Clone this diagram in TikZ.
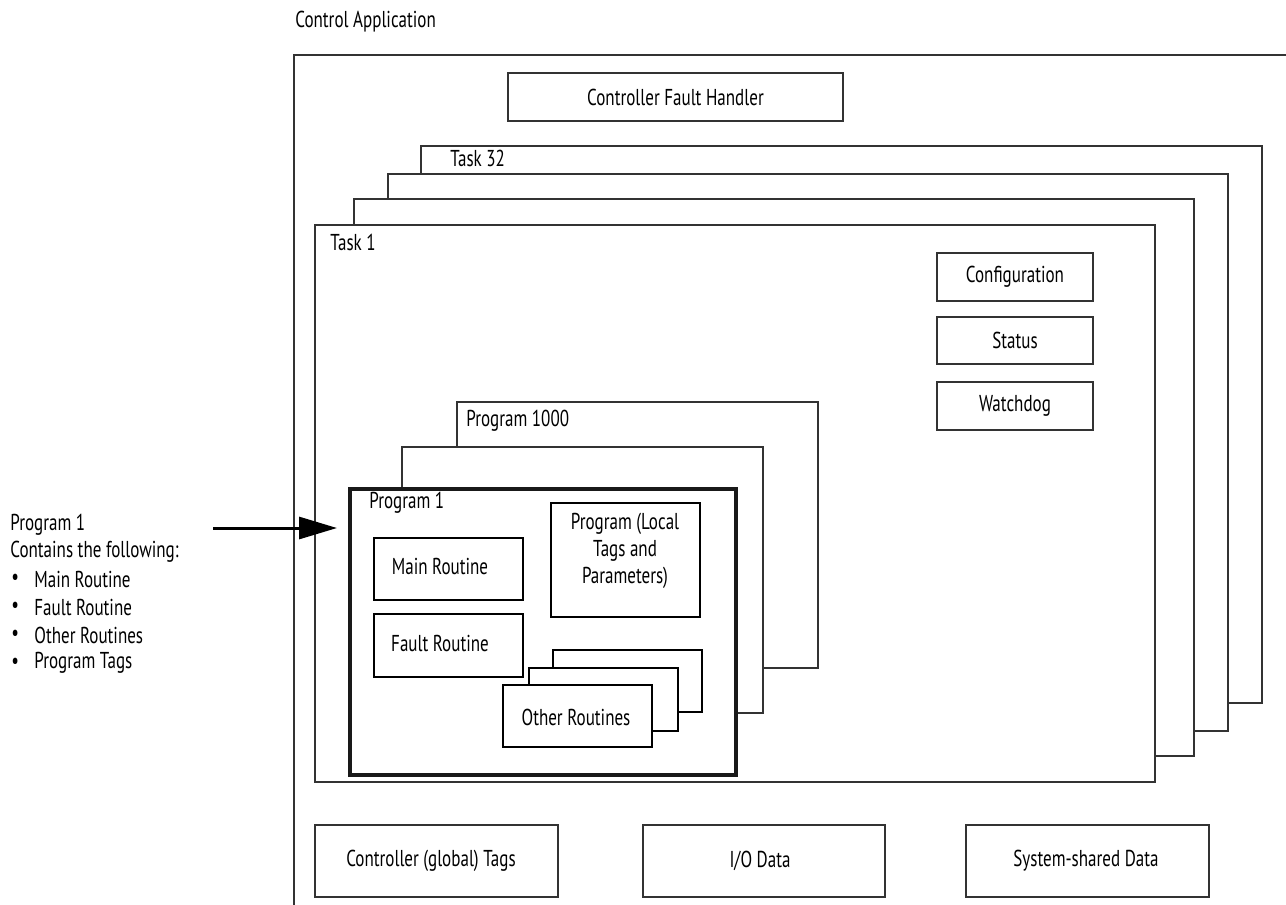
\documentclass[tikz,border=0pt]{standalone}
\usepackage{fontspec}
\setmainfont{PT Sans}[FakeStretch=0.74]
\usetikzlibrary{arrows.meta,fit}
\begin{document}
\begin{tikzpicture}[x=0.5pt,y=-0.5pt,
  every node/.style={font=\fontsize{11.5pt}{13.5pt}\selectfont, text=black},
  frame/.style={draw=black!80, line width=0.7pt, fill=white, inner sep=0pt},
  pbox/.style={draw=black, line width=1.1pt, fill=white, inner sep=0pt},
  thickbox/.style={draw=black!90, line width=2pt, fill=white, inner sep=0pt},
  lbl/.style={anchor=west, inner sep=0pt},
  txt/.style={anchor=center, inner sep=0pt, align=center},
  bigarrow/.style={line width=1.5pt, -{Triangle[length=19pt,width=11pt]}}]
\useasboundingbox (0,0) rectangle (1286,905);

% outer open frame
\coordinate (fa) at (294,905);
\coordinate (fb) at (294,55);
\coordinate (fc) at (1286,55);
\draw[draw=black!80, line width=0.7pt] (fa) -- (fb) -- (fc);
\node[lbl] (ctrlapp) at (295,22) {Control Application};

% controller fault handler
\node[frame, fit={(508,73) (843,121)}] (cfh) {};
\node[txt] (cfht) at (cfh.center) {Controller Fault Handler};

% task stack
\node[frame, fit={(421,146) (1262,703)}] (t32) {};
\node[lbl] (t32l) at (450,158) {Task 32};
\node[frame, fit={(388,174) (1228,731)}] (t3) {};
\node[frame, fit={(354,199) (1194,756)}] (t2) {};
\node[frame, fit={(315,225) (1155,782)}] (t1) {};
\node[lbl] (t1l) at (330,242) {Task 1};

% config/status/watchdog
\node[frame, fit={(937,253) (1093,301)}] (cfg) {};
\node[txt] (cfgt) at (cfg.center) {Configuration};
\node[frame, fit={(937,317) (1093,364)}] (sts) {};
\node[txt] (stst) at (sts.center) {Status};
\node[frame, fit={(937,382) (1093,430)}] (wd) {};
\node[txt] (wdt) at (wd.center) {Watchdog};

% program stack
\node[frame, fit={(457,402) (818,668)}] (p1000) {};
\node[lbl] (p1000l) at (466,421) {Program 1000};
\node[frame, fit={(402,447) (763,713)}] (pmid) {};
\node[thickbox, fit={(350,489) (736,775)}] (p1) {};
\node[lbl] (p1l) at (369,503) {Program 1};

% inside program 1
\node[pbox, fit={(374,538) (523,600)}] (mr) {};
\node[txt] (mrt) at (440,566) {Main Routine};
\node[pbox, fit={(374,614) (523,677)}] (fr) {};
\node[txt] (frt) at (440,643) {Fault Routine};
\node[pbox, fit={(551,503) (700,617)}] (plt) {};
\node[txt] (pltt) at (625,551) {Program (Local\\Tags and\\Parameters)};
\node[pbox, fit={(553,650) (702,712)}] (or3) {};
\node[pbox, fit={(529,668) (678,731)}] (or2) {};
\node[pbox, fit={(503,685) (652,747)}] (or1) {};
\node[txt] (or1t) at (576,717) {Other Routines};

% bottom data boxes
\node[frame, fit={(315,825) (558,897)}] (gt) {};
\node[txt] (gtt) at (431,861) {Controller (global) Tags};
\node[frame, fit={(643,825) (885,897)}] (io) {};
\node[txt] (iot) at (760,861) {I/O Data};
\node[frame, fit={(966,825) (1209,897)}] (ssd) {};
\node[txt] (ssdt) at (1086,861) {System-shared Data};

% left description
\node[lbl] (d1) at (10,525) {Program 1};
\node[lbl] (d2) at (10,552) {Contains the following:};
\node[lbl] (b1) at (11,579) {•};
\node[lbl] (i1) at (34,579) {Main Routine};
\node[lbl] (b2) at (11,607) {•};
\node[lbl] (i2) at (34,607) {Fault Routine};
\node[lbl] (b3) at (11,635) {•};
\node[lbl] (i3) at (34,635) {Other Routines};
\node[lbl] (b4) at (11,663) {•};
\node[lbl] (i4) at (34,663) {Program Tags};

% arrow
\coordinate (as) at (213,528);
\coordinate (ae) at (337,528);
\draw[bigarrow] (as) -- (ae);
\end{tikzpicture}
\end{document}
